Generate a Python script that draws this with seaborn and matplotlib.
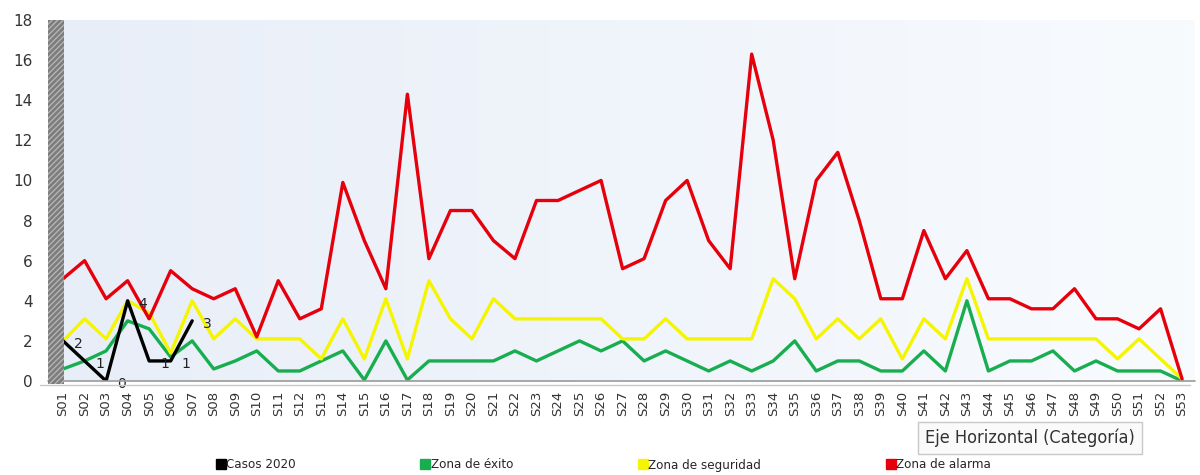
import numpy as np
import pandas as pd
import seaborn as sns
import matplotlib
matplotlib.use("Agg")
from matplotlib import pyplot as plt
from matplotlib.lines import Line2D
from matplotlib.patches import Rectangle
from matplotlib.font_manager import FontProperties

# data
semanas = ["S%02d" % i for i in range(1, 54)]
casos_2020 = [2, 1, 0, 4, 1, 1, 3]
zona_exito = [0.6, 1.0, 1.5, 3.0, 2.6, 1.2, 2.0, 0.6, 1.0, 1.5,
              0.5, 0.5, 1.0, 1.5, 0.05, 2.0, 0.05, 1.0, 1.0, 1.0,
              1.0, 1.5, 1.0, 1.5, 2.0, 1.5, 2.0, 1.0, 1.5, 1.0,
              0.5, 1.0, 0.5, 1.0, 2.0, 0.5, 1.0, 1.0, 0.5, 0.5,
              1.5, 0.5, 4.0, 0.5, 1.0, 1.0, 1.5, 0.5, 1.0, 0.5,
              0.5, 0.5, 0.0]
zona_seguridad = [2.0, 3.1, 2.1, 4.0, 3.4, 1.4, 4.0, 2.1, 3.1, 2.1,
                  2.1, 2.1, 1.1, 3.1, 1.1, 4.1, 1.1, 5.0, 3.1, 2.1,
                  4.1, 3.1, 3.1, 3.1, 3.1, 3.1, 2.1, 2.1, 3.1, 2.1,
                  2.1, 2.1, 2.1, 5.1, 4.1, 2.1, 3.1, 2.1, 3.1, 1.1,
                  3.1, 2.1, 5.1, 2.1, 2.1, 2.1, 2.1, 2.1, 2.1, 1.1,
                  2.1, 1.1, 0.1]
zona_alarma = [5.1, 6.0, 4.1, 5.0, 3.1, 5.5, 4.6, 4.1, 4.6, 2.2,
               5.0, 3.1, 3.6, 9.9, 7.0, 4.6, 14.3, 6.1, 8.5, 8.5,
               7.0, 6.1, 9.0, 9.0, 9.5, 10.0, 5.6, 6.1, 9.0, 10.0,
               7.0, 5.6, 16.3, 12.0, 5.1, 10.0, 11.4, 8.0, 4.1, 4.1,
               7.5, 5.1, 6.5, 4.1, 4.1, 3.6, 3.6, 4.6, 3.1, 3.1,
               2.6, 3.6, 0.1]

series = ["Casos 2020", "Zona de éxito", "Zona de seguridad", "Zona de alarma"]
colores = {"Casos 2020": "#000000", "Zona de éxito": "#18ae50",
           "Zona de seguridad": "#f5f500", "Zona de alarma": "#e6000c"}

frames = []
for nombre, vals in zip(series, [casos_2020, zona_exito, zona_seguridad, zona_alarma]):
    frames.append(pd.DataFrame({"idx": np.arange(len(vals)), "valor": vals, "serie": nombre}))
df = pd.concat(frames, ignore_index=True)

sns.set_style("white")
W, H = 1200, 475
fig = plt.figure(figsize=(W / 100, H / 100), dpi=100)
fig.patch.set_facecolor("white")

left, right, bottom, top = 48, 1195, 381, 20
ax = fig.add_axes([left / W, 1 - bottom / H, (right - left) / W, (bottom - top) / H])

# light gradient back wall
grad = np.linspace(0, 1, 256).reshape(1, -1)
cmap = matplotlib.colors.LinearSegmentedColormap.from_list("wall", ["#e8eef8", "#f8fbfe"])
ax.imshow(grad, extent=[0, 1, 0, 1], transform=ax.transAxes, aspect="auto",
          cmap=cmap, zorder=0)

# draw order: green, yellow, red, black on top
for nombre in ["Zona de éxito", "Zona de seguridad", "Zona de alarma", "Casos 2020"]:
    sns.lineplot(data=df[df["serie"] == nombre], x="idx", y="valor", ax=ax,
                 color=colores[nombre], linewidth=2.4, sort=False,
                 legend=False, zorder=3, estimator=None)

for i, v in enumerate(casos_2020):
    ax.annotate(str(v), (i, v), xytext=(8, -2), textcoords="offset points",
                ha="left", va="center", fontsize=10, color="#222222", zorder=4)

ax.set_xlim(-0.7, 52.6)
ax.set_ylim(0, 18)
ax.set_yticks(np.arange(0, 19, 2))
ax.set_xticks(np.arange(len(semanas)))
ax.set_xticklabels(semanas, rotation=90, fontsize=9.5, color="#333333")
ax.tick_params(axis="y", labelsize=11, labelcolor="#333333", length=0, pad=11)
ax.tick_params(axis="x", length=0, pad=7)
ax.set_xlabel("")
ax.set_ylabel("")
for s in ax.spines.values():
    s.set_visible(False)

# hatched side wall and floor edge
fig.add_artist(Rectangle((48 / W, 1 - 384 / H), 16 / W, 364 / H, transform=fig.transFigure,
                         facecolor="#7c7c7c", edgecolor="#b4b4b4", hatch="//////",
                         linewidth=0, zorder=5))
fig.add_artist(Line2D([48 / W, 1195 / W], [1 - 381 / H, 1 - 381 / H],
                      transform=fig.transFigure, color="#9a9a9a", lw=1.2))
fig.add_artist(Line2D([40 / W, 1190 / W], [1 - 385 / H, 1 - 385 / H],
                      transform=fig.transFigure, color="#c8c8c8", lw=1.0))

# legend with square markers, condensed font
fp_leg = FontProperties(family="DejaVu Sans", stretch="condensed", size=9.5)
handles = [Line2D([], [], marker="s", linestyle="", markersize=7,
                  markerfacecolor=colores[n], markeredgecolor=colores[n]) for n in series]
fig.legend(handles, series, loc="center", bbox_to_anchor=(0.503, 1 - 465 / H), ncol=4,
           frameon=False, columnspacing=9.5, handletextpad=0.05, handlelength=0.7,
           prop=fp_leg)

# tooltip box left in the screenshot
fp_tip = FontProperties(family="DejaVu Sans", stretch="condensed", size=13)
fig.text(925 / W, 1 - 438 / H, "Eje Horizontal (Categoría)", ha="left", va="center",
         fontproperties=fp_tip, color="#333333",
         bbox=dict(boxstyle="square,pad=0.4", facecolor="#fafafa", edgecolor="#c8c8c8"))

fig.savefig("out.png", dpi=100)
